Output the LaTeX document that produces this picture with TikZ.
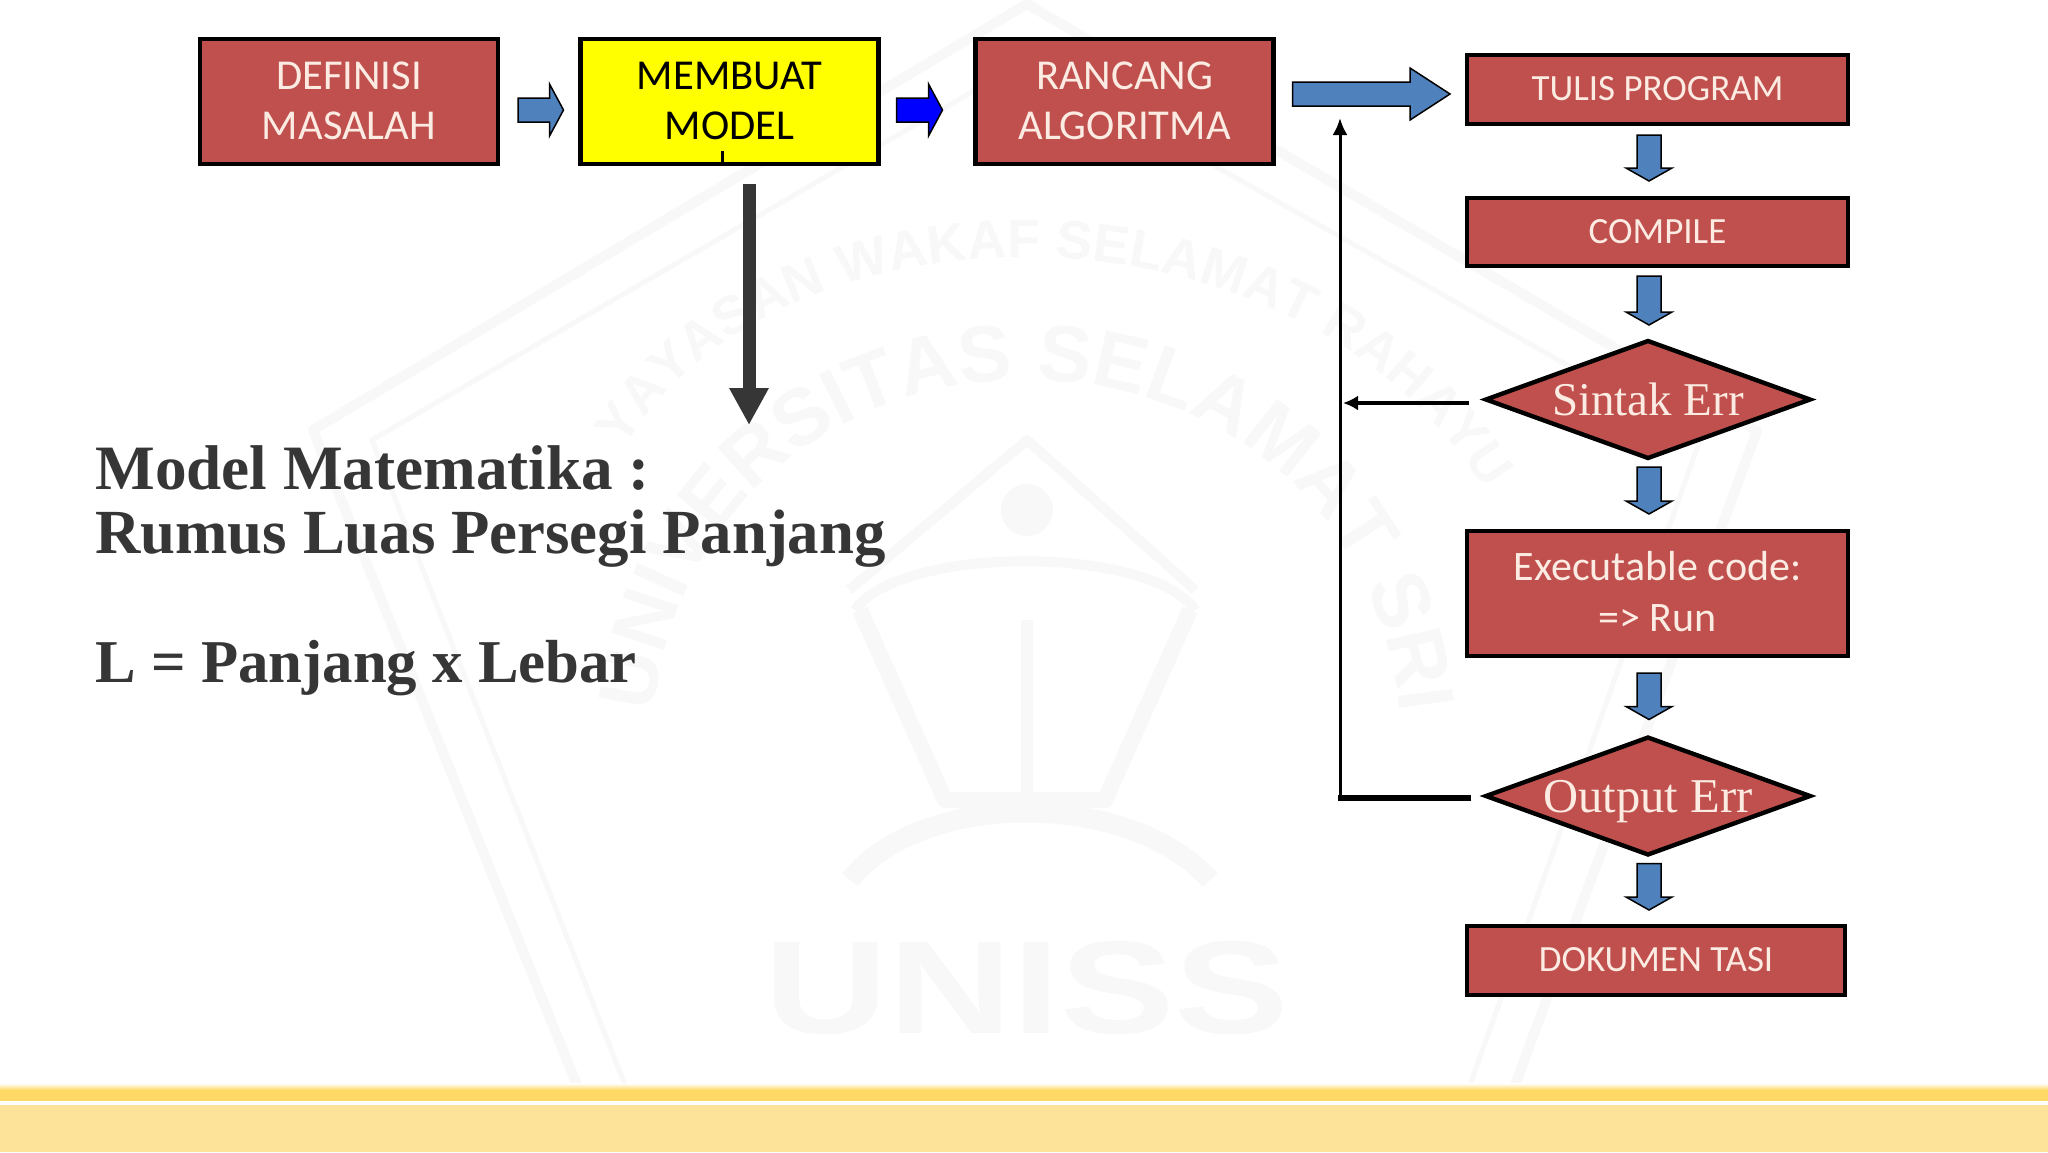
\documentclass[tikz,border=0pt]{standalone}
\usepackage{fontspec}
\setmainfont{Carlito}
\newfontfamily\slidefont{Liberation Serif}
\newfontfamily\wmfont{Liberation Sans}
\usetikzlibrary{shapes.geometric,arrows.meta,calc,decorations.text}
\definecolor{boxred}{HTML}{C0504D}
\definecolor{arrowblue}{HTML}{4F81BD}
\definecolor{boxtext}{HTML}{FBEBE2}
\definecolor{slidetext}{HTML}{363636}
\definecolor{wm}{HTML}{F9F8F8}
\definecolor{bandgold}{HTML}{FFD966}
\definecolor{bandpale}{HTML}{FDE39A}
\definecolor{modelyellow}{HTML}{FFFF00}
\definecolor{pureblue}{HTML}{0000FF}
\newcommand{\liftup}[2]{\raisebox{#1}{\begin{tabular}{@{}c@{}}#2\end{tabular}}}
\tikzset{
  x=0.5pt,y=-0.5pt,
  stepbox/.style={draw=black,line width=2.2pt,fill=boxred,text=boxtext,align=center,inner sep=0pt,outer sep=0pt,font=\fontsize{18.5}{25}\selectfont},
  widebox/.style={stepbox,minimum width=149pt,minimum height=62.5pt,font=\fontsize{21.3}{25}\selectfont},
  flowbox/.style={stepbox,minimum width=190.5pt,minimum height=34.5pt},
  decision/.style={diamond,aspect=2.8,draw=black,line width=2.2pt,fill=boxred,text=boxtext,inner sep=0pt,outer sep=0pt,minimum width=162pt,minimum height=58.5pt,text depth=0pt,font=\slidefont\fontsize{23.5}{26}\selectfont},
  flowarrow/.style={draw=black,line width=0.75pt,fill=arrowblue,line join=miter},
  slideline/.style={anchor=base west,inner sep=0pt,text=slidetext},
  wmtext/.style={decorate,decoration={text along path,text align=center}},
}
% down block arrow: from node, to node, x offset, gap below, gap above
\newcommand{\flowdown}[5]{%
  \draw[flowarrow] let \p1=($(#1.south)+(#3,#4)$),\p2=($(#2.north)+(#3,-#5)$) in
    (\x1-6pt,\y1) -- (\x1+6pt,\y1) -- (\x1+6pt,\y2+6.5pt) -- (\x1+11.5pt,\y2+6.5pt)
    -- (\x1,\y2) -- (\x1-11.5pt,\y2+6.5pt) -- (\x1-6pt,\y2+6.5pt) -- cycle;}
% right block arrow: from node, to node, gap, gap, y offset, half shaft, head length, fill
\newcommand{\flowright}[8]{%
  \draw[flowarrow,#8] let \p1=($(#1.east)+(#3,#5)$),\p2=($(#2.west)+(-#4,#5)$) in
    (\x1,\y1+#6) -- (\x2-#7,\y1+#6) -- (\x2-#7,\y1+2*#6+1pt) -- (\x2,\y1) -- (\x2-#7,\y1-2*#6-1pt) -- (\x2-#7,\y1-#6) -- (\x1,\y1-#6) -- cycle;}
\begin{document}
\begin{tikzpicture}
\useasboundingbox (0,0) rectangle (2048,1152);
\fill[white] (0,0) rectangle (2048,1152);
% watermark
\begin{scope}[wm]
\draw[line width=5pt,line join=round] (577,1085) -- (313,430) -- (1027,4) -- (1757,431) -- (1515,1085);
\draw[line width=2.5pt,line join=round] (625,1085) -- (372,440) -- (1027,60) -- (1700,440) -- (1470,1085);
\node[font=\wmfont\bfseries\fontsize{66}{66}\selectfont] (wmname) at (1027,988) {\scalebox{1.3}[1]{UNISS}};
\draw[line width=5pt,line join=round] (849,590) -- (1027,440) -- (1195,590);
\fill (1027,510) circle (26);
\draw[line width=5pt] (855,610) .. controls (900,545) and (1150,545) .. (1195,610);
\draw[line width=8pt,line join=round] (860,610) -- (945,800) -- (1105,800) -- (1190,610);
\draw[line width=6pt] (1027,620) -- (1027,800);
\draw[line width=10pt] (850,880) .. controls (920,790) and (1130,790) .. (1210,880);
\path[wmtext,decoration={text={|\wmfont\bfseries\fontsize{40}{40}\selectfont\color{wm}|UNIVERSITAS SELAMAT SRI}}]
  (650,770) .. controls (650,250) and (1404,250) .. (1404,770);
\path[wmtext,decoration={text={|\wmfont\bfseries\fontsize{27}{27}\selectfont\color{wm}|YAYASAN WAKAF SELAMAT RAHAYU}}]
  (600,500) .. controls (720,170) and (1350,170) .. (1510,540);
\end{scope}
% footer band
\shade[top color=white,bottom color=bandgold] (0,1083) rectangle (2048,1090);
\fill[bandgold] (0,1090) rectangle (2048,1101);
\fill[bandpale] (0,1105) rectangle (2048,1152);
% top row
\node[widebox] (definisi) at (349,101.5) {\raisebox{0.5pt}{DEFINISI}\\\raisebox{0.5pt}{MASALAH}};
\node[widebox,fill=modelyellow,text=black] (membuat) at (729.5,101.5) {\raisebox{0.5pt}{MEMBUAT}\\\raisebox{0.5pt}{MODEL}};
\node[widebox] (rancang) at (1124.5,101.5) {\raisebox{0.5pt}{RANCANG}\\\raisebox{0.5pt}{ALGORITMA}};
% right column
\node[flowbox] (tulis) at (1657.5,89.5) {\raisebox{0.6pt}{TULIS PROGRAM}};
\node[flowbox,minimum height=34pt] (compile) at (1657.5,232) {\raisebox{0.6pt}{COMPILE}};
\node[decision] (sintak) at (1648,399.5) {Sintak Err};
\node[flowbox,minimum height=62.5pt,font=\fontsize{21}{25.5}\selectfont] (exec) at (1657.5,593.5) {\raisebox{1.7pt}{Executable code:}\\\raisebox{1.7pt}{=> Run}};
\node[decision,font=\slidefont\fontsize{24.3}{26}\selectfont] (output) at (1648,796) {Output Err};
\node[flowbox,minimum width=189pt] (dokumen) at (1656,960.5) {\raisebox{0.6pt}{DOKUMEN TASI}};
% block arrows
\flowright{definisi}{membuat}{20}{17}{8.5}{6pt}{7pt}{fill=arrowblue}
\flowright{membuat}{rancang}{18}{33}{8.5}{6pt}{7pt}{fill=pureblue}
\flowright{rancang}{tulis}{19}{17}{-7.5}{6pt}{20pt}{fill=arrowblue}
\flowdown{tulis}{compile}{-8.5}{11}{17}
\flowdown{compile}{sintak}{-8.5}{10}{16}
\flowdown{sintak}{exec}{1}{9}{17}
\flowdown{exec}{output}{-8.5}{17}{18}
\flowdown{output}{dokumen}{1}{9}{16}
% model arrow
\coordinate (modelend) at (749,425);
\draw[line width=1.5pt] ([xshift=-3.75pt]membuat.south) -- ++(0,-13);
\draw[slidetext,line width=6.5pt,-{Triangle[length=18.5pt,width=18.5pt]}] ($(membuat.south)+(19.5,20)$) -- (modelend);
% feedback lines
\coordinate (loopcorner) at (1340,798);
\coordinate (looptop) at (1340,118);
\coordinate (loopjoin) at (1343,403);
\draw[line width=1.5pt,-{Latex[length=8.5pt,width=7.5pt]}] (loopcorner) -- (looptop);
\draw[line width=3.4pt] ([xshift=-7.5pt,yshift=-1pt]output.west) -- ([xshift=-1pt]loopcorner);
\draw[line width=2.4pt,-{Latex[length=7.5pt,width=7.5pt]}] ([xshift=-8.5pt,yshift=-1.75pt]sintak.west) -- (loopjoin);
% text
\node[slideline,font=\slidefont\bfseries\fontsize{31.6}{36}\selectfont] (line1) at (95,489) {Model Matematika :};
\node[slideline,font=\slidefont\bfseries\fontsize{31.4}{36}\selectfont] (line2) at (95,553) {Rumus Luas Persegi Panjang};
\node[slideline,font=\slidefont\bfseries\fontsize{30.4}{36}\selectfont] (line3) at (95,682) {L = Panjang x Lebar};
\end{tikzpicture}
\end{document}
